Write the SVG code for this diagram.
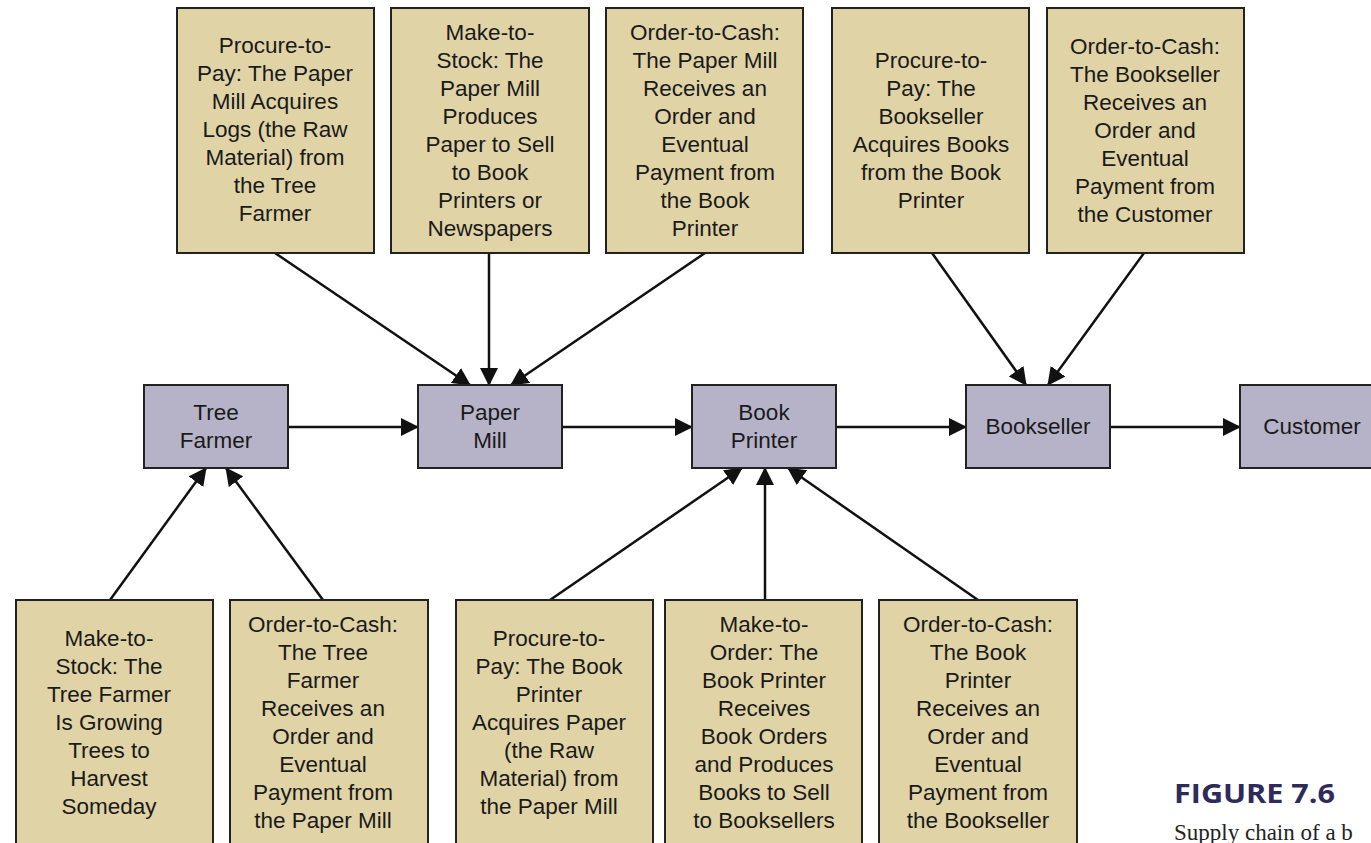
<svg xmlns="http://www.w3.org/2000/svg" width="1371" height="843" viewBox="0 0 1371 843">
<style>
.box{fill:#e0d3a6;stroke:#222;stroke-width:2}
.node{fill:#b6b3c9;stroke:#222;stroke-width:2}
.t{font-family:"Liberation Sans",Arial,sans-serif;font-size:22.5px;fill:#1a1a1a;text-anchor:middle}
.c{stroke:#111;stroke-width:2.5;fill:none;marker-end:url(#ah)}
</style>
<defs>
<marker id="ah" markerUnits="userSpaceOnUse" markerWidth="18" markerHeight="18" viewBox="0 0 18 18" refX="17" refY="9" orient="auto">
<path d="M0,0 L18,9 L0,18 Z" fill="#111"/>
</marker>
</defs>
<rect width="1371" height="843" fill="#fff"/>
<g id="connectors">
<line class="c" x1="275" y1="253" x2="470" y2="385"/>
<line class="c" x1="489" y1="253" x2="489" y2="385"/>
<line class="c" x1="705" y1="253" x2="511" y2="385"/>
<line class="c" x1="932" y1="253" x2="1026" y2="385"/>
<line class="c" x1="1144" y1="253" x2="1048" y2="385"/>
<line class="c" x1="110" y1="600" x2="206" y2="468"/>
<line class="c" x1="323" y1="600" x2="226" y2="468"/>
<line class="c" x1="550" y1="600" x2="742" y2="468"/>
<line class="c" x1="765" y1="600" x2="765" y2="468"/>
<line class="c" x1="978" y1="600" x2="788" y2="468"/>
<line class="c" x1="288" y1="427" x2="418" y2="427"/>
<line class="c" x1="562" y1="427" x2="692" y2="427"/>
<line class="c" x1="836" y1="427" x2="966" y2="427"/>
<line class="c" x1="1110" y1="427" x2="1240" y2="427"/>
</g>
<g id="n-tree-farmer"><rect class="node" x="144" y="385" width="144" height="83"/><text class="t" x="216" y="420">Tree</text><text class="t" x="216" y="448">Farmer</text></g>
<g id="n-paper-mill"><rect class="node" x="418" y="385" width="144" height="83"/><text class="t" x="490" y="420">Paper</text><text class="t" x="490" y="448">Mill</text></g>
<g id="n-book-printer"><rect class="node" x="692" y="385" width="144" height="83"/><text class="t" x="764" y="420">Book</text><text class="t" x="764" y="448">Printer</text></g>
<g id="n-bookseller"><rect class="node" x="966" y="385" width="144" height="83"/><text class="t" x="1038" y="434">Bookseller</text></g>
<g id="n-customer"><rect class="node" x="1240" y="385" width="144" height="83"/><text class="t" x="1312" y="434">Customer</text></g>
<g id="t1"><rect class="box" x="177" y="8" width="197" height="245"/>
<text class="t" x="275" y="53">Procure-to-</text><text class="t" x="275" y="81">Pay: The Paper</text><text class="t" x="275" y="109">Mill Acquires</text><text class="t" x="275" y="137">Logs (the Raw</text><text class="t" x="275" y="165">Material) from</text><text class="t" x="275" y="193">the Tree</text><text class="t" x="275" y="221">Farmer</text></g>
<g id="t2"><rect class="box" x="391" y="8" width="198" height="245"/>
<text class="t" x="490" y="40">Make-to-</text><text class="t" x="490" y="68">Stock: The</text><text class="t" x="490" y="96">Paper Mill</text><text class="t" x="490" y="124">Produces</text><text class="t" x="490" y="152">Paper to Sell</text><text class="t" x="490" y="180">to Book</text><text class="t" x="490" y="208">Printers or</text><text class="t" x="490" y="236">Newspapers</text></g>
<g id="t3"><rect class="box" x="606" y="8" width="197" height="245"/>
<text class="t" x="705" y="40">Order-to-Cash:</text><text class="t" x="705" y="68">The Paper Mill</text><text class="t" x="705" y="96">Receives an</text><text class="t" x="705" y="124">Order and</text><text class="t" x="705" y="152">Eventual</text><text class="t" x="705" y="180">Payment from</text><text class="t" x="705" y="208">the Book</text><text class="t" x="705" y="236">Printer</text></g>
<g id="t4"><rect class="box" x="832" y="8" width="197" height="245"/>
<text class="t" x="931" y="68">Procure-to-</text><text class="t" x="931" y="96">Pay: The</text><text class="t" x="931" y="124">Bookseller</text><text class="t" x="931" y="152">Acquires Books</text><text class="t" x="931" y="180">from the Book</text><text class="t" x="931" y="208">Printer</text></g>
<g id="t5"><rect class="box" x="1047" y="8" width="197" height="245"/>
<text class="t" x="1145" y="54">Order-to-Cash:</text><text class="t" x="1145" y="82">The Bookseller</text><text class="t" x="1145" y="110">Receives an</text><text class="t" x="1145" y="138">Order and</text><text class="t" x="1145" y="166">Eventual</text><text class="t" x="1145" y="194">Payment from</text><text class="t" x="1145" y="222">the Customer</text></g>
<g id="b1"><rect class="box" x="16" y="600" width="197" height="260"/>
<text class="t" x="109" y="646">Make-to-</text><text class="t" x="109" y="674">Stock: The</text><text class="t" x="109" y="702">Tree Farmer</text><text class="t" x="109" y="730">Is Growing</text><text class="t" x="109" y="758">Trees to</text><text class="t" x="109" y="786">Harvest</text><text class="t" x="109" y="814">Someday</text></g>
<g id="b2"><rect class="box" x="230" y="600" width="198" height="260"/>
<text class="t" x="323" y="632">Order-to-Cash:</text><text class="t" x="323" y="660">The Tree</text><text class="t" x="323" y="688">Farmer</text><text class="t" x="323" y="716">Receives an</text><text class="t" x="323" y="744">Order and</text><text class="t" x="323" y="772">Eventual</text><text class="t" x="323" y="800">Payment from</text><text class="t" x="323" y="828">the Paper Mill</text></g>
<g id="b3"><rect class="box" x="456" y="600" width="197" height="260"/>
<text class="t" x="549" y="646">Procure-to-</text><text class="t" x="549" y="674">Pay: The Book</text><text class="t" x="549" y="702">Printer</text><text class="t" x="549" y="730">Acquires Paper</text><text class="t" x="549" y="758">(the Raw</text><text class="t" x="549" y="786">Material) from</text><text class="t" x="549" y="814">the Paper Mill</text></g>
<g id="b4"><rect class="box" x="665" y="600" width="197" height="260"/>
<text class="t" x="764" y="632">Make-to-</text><text class="t" x="764" y="660">Order: The</text><text class="t" x="764" y="688">Book Printer</text><text class="t" x="764" y="716">Receives</text><text class="t" x="764" y="744">Book Orders</text><text class="t" x="764" y="772">and Produces</text><text class="t" x="764" y="800">Books to Sell</text><text class="t" x="764" y="828">to Booksellers</text></g>
<g id="b5"><rect class="box" x="879" y="600" width="198" height="260"/>
<text class="t" x="978" y="632">Order-to-Cash:</text><text class="t" x="978" y="660">The Book</text><text class="t" x="978" y="688">Printer</text><text class="t" x="978" y="716">Receives an</text><text class="t" x="978" y="744">Order and</text><text class="t" x="978" y="772">Eventual</text><text class="t" x="978" y="800">Payment from</text><text class="t" x="978" y="828">the Bookseller</text></g>
<g id="caption">
<text x="1174" y="803" font-family="'Open Sans','Liberation Sans',sans-serif" font-weight="bold" font-size="27" fill="#2e2a5c" textLength="161" lengthAdjust="spacingAndGlyphs">FIGURE 7.6</text>
<text x="1174" y="840" font-family="'Liberation Serif','Times New Roman',serif" font-size="23" fill="#222">Supply chain of a b</text>
</g>
</svg>
